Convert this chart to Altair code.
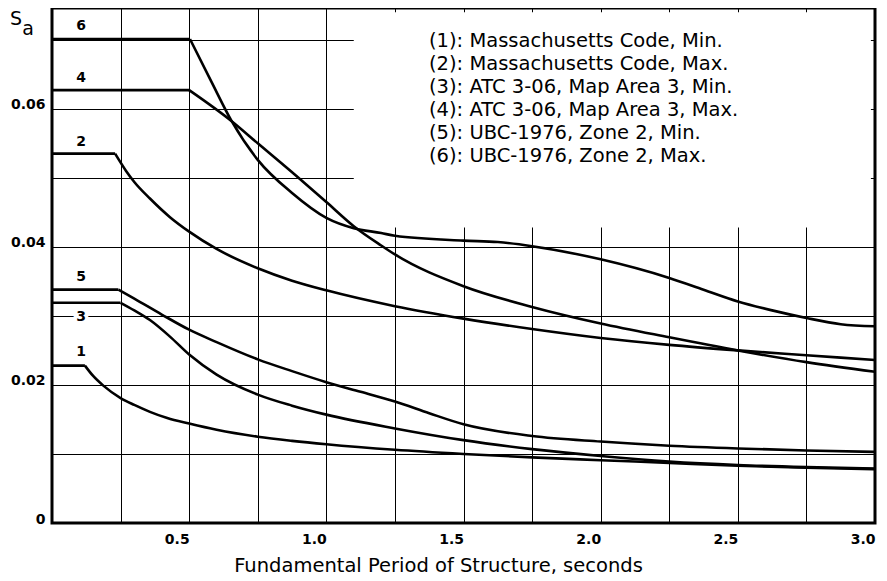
import altair as alt
import pandas as pd

# ---------------- data ----------------
# curve 1: Massachusetts Code, Min.
t1 = [0, 0.12, 0.15, 0.187, 0.25, 0.3, 0.357, 0.42, 0.5, 0.6, 0.75, 0.875, 1.0, 1.25, 1.5, 1.75, 2.0, 2.25, 2.5, 2.75, 3.0]
v1 = [0.0228, 0.0228, 0.0213, 0.0199, 0.0181, 0.0171, 0.0161, 0.0152, 0.0144, 0.0135, 0.0125, 0.0119, 0.0114, 0.0106, 0.0100, 0.0095, 0.0091, 0.0087, 0.0083, 0.0080, 0.0078]
c1 = 0.12
# curve 2: Massachusetts Code, Max.
t2 = [0, 0.23, 0.27, 0.3, 0.357, 0.43, 0.5, 0.6, 0.75, 0.875, 1.0, 1.25, 1.5, 1.75, 2.0, 2.25, 2.5, 2.75, 3.0]
v2 = [0.0535, 0.0535, 0.0510, 0.0494, 0.0470, 0.0443, 0.0422, 0.0397, 0.0369, 0.0351, 0.0337, 0.0314, 0.0296, 0.0281, 0.0268, 0.0258, 0.0250, 0.0243, 0.0236]
c2 = 0.23
# curve 3: ATC 3-06, Map Area 3, Min.
t3 = [0, 0.25, 0.3, 0.357, 0.43, 0.5, 0.6, 0.75, 0.875, 1.0, 1.25, 1.5, 1.75, 2.0, 2.25, 2.5, 2.75, 3.0]
v3 = [0.0319, 0.0319, 0.0308, 0.0294, 0.0270, 0.0244, 0.0215, 0.0186, 0.0170, 0.0157, 0.0137, 0.0120, 0.0107, 0.0097, 0.0089, 0.0084, 0.0081, 0.0079]
c3 = 0.25
# curve 4: ATC 3-06, Map Area 3, Max.
t4 = [0, 0.5, 0.655, 0.75, 0.89, 1.0, 1.1, 1.2, 1.25, 1.5, 1.75, 2.0, 2.25, 2.5, 2.75, 3.0]
v4 = [0.0627, 0.0627, 0.0582, 0.0550, 0.0503, 0.0465, 0.0430, 0.0402, 0.0389, 0.0343, 0.0313, 0.0289, 0.0269, 0.0250, 0.0233, 0.0219]
c4 = 0.5
# curve 5: UBC-1976, Zone 2, Min.
t5 = [0, 0.242, 0.3, 0.4, 0.5, 0.6, 0.75, 0.875, 1.0, 1.125, 1.25, 1.375, 1.5, 1.75, 2.0, 2.25, 2.5, 2.75, 3.0]
v5 = [0.0338, 0.0338, 0.0325, 0.0302, 0.0280, 0.0262, 0.0237, 0.0220, 0.0204, 0.0190, 0.0176, 0.0159, 0.0143, 0.0126, 0.0118, 0.0112, 0.0108, 0.0105, 0.0103]
c5 = 0.242
# curve 6: UBC-1976, Zone 2, Max.
t6 = [0, 0.503, 0.58, 0.655, 0.75, 0.875, 1.0, 1.1, 1.2, 1.25, 1.5, 1.625, 1.75, 2.0, 2.25, 2.375, 2.5, 2.625, 2.75, 2.875, 3.0]
v6 = [0.0701, 0.0701, 0.0640, 0.0582, 0.0526, 0.0478, 0.0442, 0.0427, 0.0420, 0.0416, 0.0409, 0.0407, 0.0401, 0.0382, 0.0355, 0.0338, 0.0321, 0.0308, 0.0297, 0.0288, 0.0285]
c6 = 0.503

label_text = ["6", "4", "2", "5", "3", "1"]
label_t = [0.106, 0.106, 0.106, 0.106, 0.106, 0.106]
label_v = [0.0720, 0.0644, 0.0552, 0.0357, 0.0299, 0.0247]

legend_lines = [
    "(1): Massachusetts Code, Min.",
    "(2): Massachusetts Code, Max.",
    "(3): ATC 3-06, Map Area 3, Min.",
    "(4): ATC 3-06, Map Area 3, Max.",
    "(5): UBC-1976, Zone 2, Min.",
    "(6): UBC-1976, Zone 2, Max.",
]

x_grid = [0.25 * k for k in range(13)]
y_grid = [0.01 * k for k in range(8)]

# ---------------- build table ----------------
rows = []
for name, ts, vs, tc in [("1", t1, v1, c1), ("2", t2, v2, c2), ("3", t3, v3, c3),
                         ("4", t4, v4, c4), ("5", t5, v5, c5), ("6", t6, v6, c6)]:
    for t, v in zip(ts, vs):
        if t <= tc + 1e-9:
            rows.append({"t": t, "v": v, "seg": name + "p"})
        if t >= tc - 1e-9:
            rows.append({"t": t, "v": v, "seg": name + "d"})
df = pd.DataFrame(rows)
labels = pd.DataFrame({"t": label_t, "v": label_v, "txt": label_text})

FONT = "DejaVu Sans"

X = alt.X("t:Q",
          scale=alt.Scale(domain=[0, 3], nice=False, zero=False),
          axis=alt.Axis(values=x_grid, grid=True, ticks=False, domain=False,
                        labelExpr="datum.value > 0 && datum.value*2 == round(datum.value*2) ? format(datum.value, '.1f') : ''",
                        labelFont=FONT, labelFontWeight="bold", labelFontSize=14,
                        labelAlign="right", labelBaseline="top", labelPadding=9,
                        labelColor="black", labelOverlap=False, labelFlush=False,
                        title="Fundamental Period of Structure, seconds",
                        titleFont=FONT, titleFontSize=19.5, titleFontWeight="normal",
                        titleColor="black", titleX=386, titleY=42, titleBaseline="middle",
                        titleAnchor="middle", titleAlign="center"))
Y = alt.Y("v:Q",
          scale=alt.Scale(domain=[0, 0.0746], nice=False, zero=True),
          axis=alt.Axis(values=y_grid, grid=True, ticks=False, domain=False,
                        labelExpr="datum.value < 0.065 && round(datum.value*100) % 2 == 0 ? (datum.value == 0 ? '0' : format(datum.value, '.2f')) : ''",
                        labelFont=FONT, labelFontWeight="bold", labelFontSize=14,
                        labelAlign="right", labelBaseline="alphabetic", labelPadding=7,
                        labelColor="black", labelOverlap=False, labelFlush=False,
                        title=None))

# white mask over the legend area (grid lines absent there)
mask = alt.Chart(pd.DataFrame({"t": [1.1], "t2": [2.985], "v": [0.0428], "v2": [0.0740]})).mark_rect(
    color="white").encode(x=X, x2="t2:Q", y=Y, y2="v2:Q")

lines = alt.Chart(df).mark_line(color="black", strokeWidth=2.6, interpolate="monotone").encode(
    x=X, y=Y, detail="seg:N", order="t:Q")

halo = alt.Chart(labels).mark_text(font=FONT, fontWeight="bold", fontSize=14, stroke="white",
                                   strokeWidth=7, color="white").encode(x=X, y=Y, text="txt:N")
lab = alt.Chart(labels).mark_text(font=FONT, fontWeight="bold", fontSize=14, color="black").encode(
    x=X, y=Y, text="txt:N")

one = pd.DataFrame({"k": [0]})
legend = alt.Chart(one).mark_text(font=FONT, fontSize=19.5, color="black", align="left",
                                  baseline="alphabetic", lineBreak="\n", lineHeight=22.9).encode(
    x=alt.value(377), y=alt.value(39), text=alt.value("\n".join(legend_lines)))

s_txt = alt.Chart(one).mark_text(font=FONT, fontSize=19, color="black", align="center",
                                 baseline="middle").encode(
    x=alt.value(-36), y=alt.value(11), text=alt.value("S"))
a_txt = alt.Chart(one).mark_text(font=FONT, fontSize=19, color="black", align="center",
                                 baseline="middle").encode(
    x=alt.value(-24), y=alt.value(21), text=alt.value("a"))

chart = alt.layer(mask, lines, halo, lab, legend, s_txt, a_txt).properties(
    width=823, height=515,
    autosize=alt.AutoSizeParams(type="none"),
    padding={"left": 44, "top": 0, "right": 4, "bottom": 58},
    background="white",
).configure_view(stroke="black", strokeWidth=3).configure_axis(
    gridColor="black", gridWidth=1, gridOpacity=1)

chart.save("out.html", embed_options={"renderer": "svg", "actions": False})
